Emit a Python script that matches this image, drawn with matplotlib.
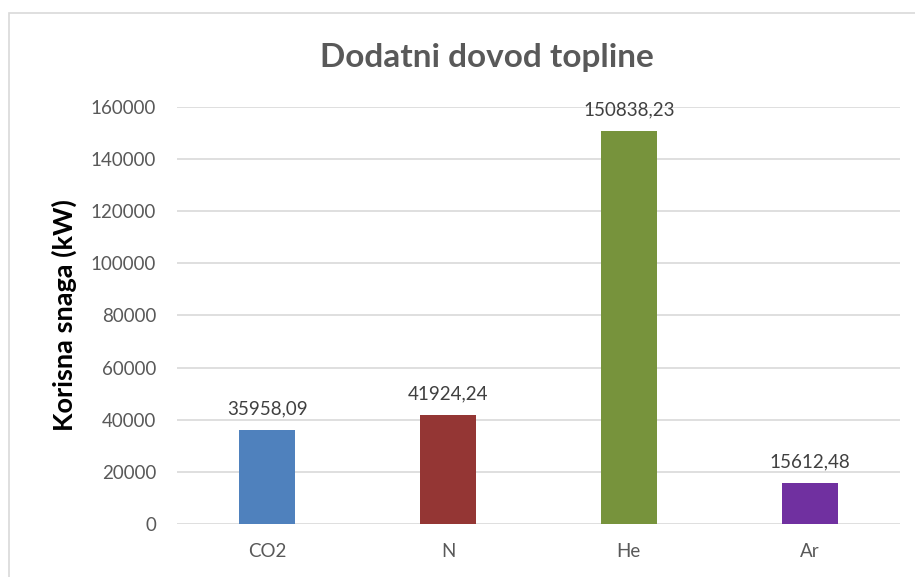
import matplotlib
matplotlib.use("Agg")
import matplotlib.pyplot as plt
from matplotlib.patches import Rectangle

plt.rcParams['font.family'] = ['Lato', 'DejaVu Sans']

# data
gases = ["CO2", "N", "He", "Ar"]
power_kw = [35958.09, 41924.24, 150838.23, 15612.48]
bar_colors = ["#4F81BD", "#943634", "#77933C", "#7030A0"]
y_ticks = [0, 20000, 40000, 60000, 80000, 100000, 120000, 140000, 160000]

fig = plt.figure(figsize=(9.15, 5.77), dpi=100)
ax = fig.add_axes([0.1934, 0.0919, 0.7902, 0.7227])

# light chart border like the excel frame
fig.patches.append(Rectangle((9 / 915, -0.01), 1.0, 1 - 13 / 577 + 0.01,
                             transform=fig.transFigure, fill=False,
                             edgecolor="#D9D9D9", linewidth=1.2))

x = range(len(gases))
ax.bar(x, power_kw, width=0.31, color=bar_colors, zorder=3)

for xi, val in zip(x, power_kw):
    txt = f"{val:.2f}".replace(".", ",")
    ax.annotate(txt, (xi, val), textcoords="offset points", xytext=(0, 9),
                ha="center", va="bottom", fontsize=13.5, color="#404040")

ax.set_xlim(-0.5, len(gases) - 0.5)
ax.set_ylim(0, 160000)
ax.set_yticks(y_ticks)
ax.set_yticklabels([str(t) for t in y_ticks])
ax.set_xticks(list(x))
ax.set_xticklabels(gases)
ax.tick_params(axis="both", length=0, labelsize=13.5, labelcolor="#595959")
ax.tick_params(axis="y", pad=15)
ax.tick_params(axis="x", pad=14)
ax.grid(axis="y", color="#D9D9D9", linewidth=1.2, zorder=0)
for s in ax.spines.values():
    s.set_visible(False)

ax.set_ylabel("Korisna snaga (kW)", fontsize=19.5, fontweight="bold",
              color="black", labelpad=10)
fig.text(487 / 915, 1 - 58 / 577, "Dodatni dovod topline", ha="center",
         va="center", fontsize=24, fontweight="bold", color="#595959")

fig.savefig("out.png", dpi=100)
